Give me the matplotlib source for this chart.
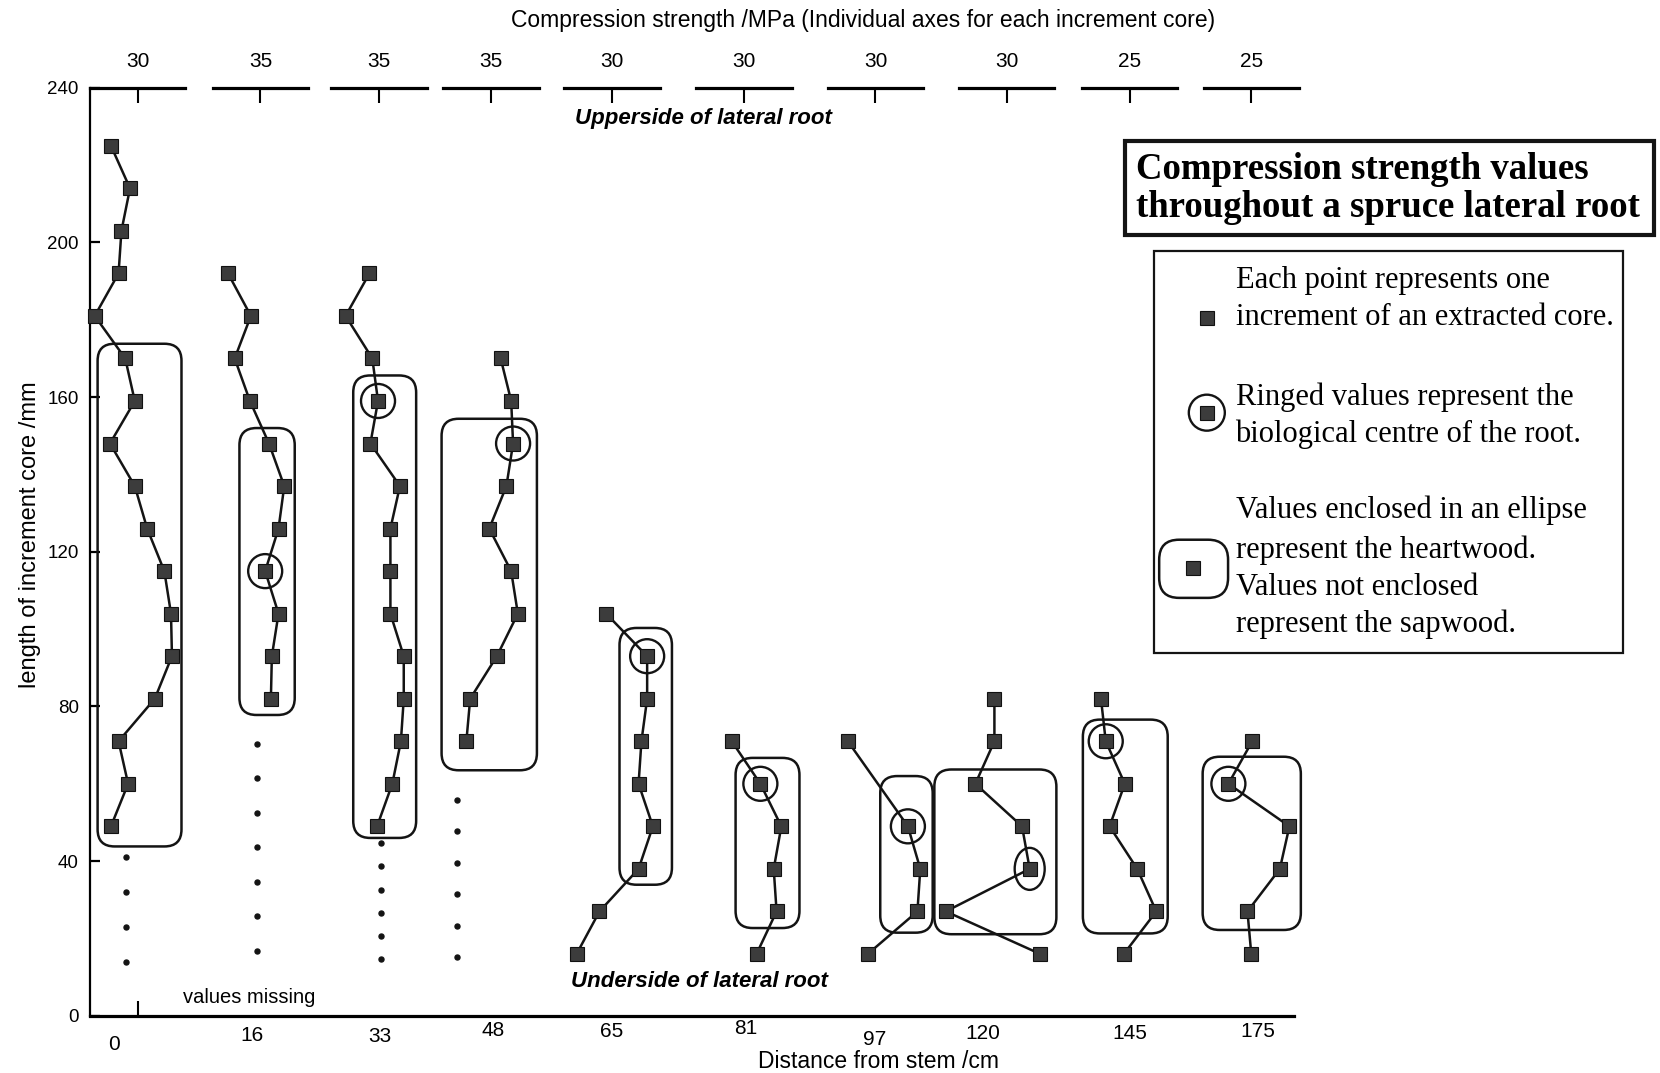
import matplotlib
matplotlib.use("Agg")
import matplotlib.pyplot as plt
from matplotlib.patches import FancyBboxPatch, Ellipse, Rectangle

plt.rcParams["font.family"] = ["Liberation Sans", "DejaVu Sans"]
SERIF = ["Liberation Serif", "DejaVu Serif"]

# distance of each increment core from the stem (cm) and the value (MPa)
# at the centre tick of that core's own strength axis
distance_cm = [0, 16, 33, 48, 65, 81, 97, 120, 145, 175]
axis_mid_mpa = [30, 35, 35, 35, 30, 30, 30, 30, 25, 25]

# increment position along each core (mm) and its compression strength (MPa)
core_mm = [
    [225, 214, 203, 192, 181, 170, 159, 148, 137, 126, 115, 104, 93, 82, 71, 60, 49],
    [192, 181, 170, 159, 148, 137, 126, 115, 104, 93, 82],
    [192, 181, 170, 159, 148, 137, 126, 115, 104, 93, 82, 71, 60, 49],
    [170, 159, 148, 137, 126, 115, 104, 93, 82, 71],
    [104, 93, 82, 71, 60, 49, 38, 27, 16],
    [71, 60, 49, 38, 27, 16],
    [71, 49, 38, 27, 16],
    [82, 71, 60, 49, 38, 27, 16],
    [82, 71, 60, 49, 38, 27, 16],
    [71, 60, 49, 38, 27, 16],
]
core_mpa = [
    [27.2, 29.2, 28.3, 28.0, 25.5, 28.7, 29.7, 27.1, 29.7, 31.0, 32.8, 33.5, 33.6, 31.8, 28.0, 29.0, 27.2],
    [31.6, 34.0, 32.3, 33.9, 35.9, 37.5, 36.9, 35.5, 36.9, 36.2, 36.1],
    [34.0, 31.5, 34.3, 34.9, 34.1, 37.2, 36.2, 36.2, 36.2, 37.6, 37.6, 37.3, 36.4, 34.8],
    [36.0, 37.1, 37.3, 36.6, 34.8, 37.1, 37.8, 35.6, 32.8, 32.4],
    [29.4, 33.7, 33.7, 33.1, 32.8, 34.3, 32.8, 28.7, 26.3],
    [28.7, 31.7, 33.9, 33.1, 33.4, 31.3],
    [27.1, 33.4, 34.7, 34.4, 29.2],
    [28.7, 28.7, 26.7, 31.6, 32.4, 23.6, 33.5],
    [22.0, 22.5, 24.5, 22.9, 25.8, 27.8, 24.4],
    [25.1, 22.6, 29.0, 28.0, 24.6, 25.0],
]
# increment at the biological centre of the root (ringed), mm
centre_mm = [None, 115, 159, 148, 93, 60, 49, 38, 71, 60]
# heartwood extent per core: (MPa left, MPa right, mm bottom, mm top)
heartwood = [
    (25.8, 34.6, 43.8, 173.8),
    (32.8, 38.6, 77.8, 152.0),
    (32.3, 38.9, 46.0, 165.6),
    (29.8, 39.8, 63.5, 154.4),
    (30.8, 36.3, 33.9, 100.3),
    (29.1, 35.8, 22.7, 66.7),
    (30.5, 36.0, 21.5, 62.0),
    (22.4, 35.2, 21.1, 63.7),
    (20.1, 29.0, 21.3, 76.6),
    (19.9, 30.2, 22.2, 67.0),
]
# increments with no measurement, below the first four cores
missing_core = [0, 1, 2, 3]
missing_mpa = [28.8, 34.6, 35.2, 31.4]
missing_mm = [
    [41, 32, 23, 14],
    [70.3, 61.4, 52.5, 43.6, 34.7, 25.7, 16.8],
    [44.6, 38.7, 32.5, 26.6, 20.7, 14.8],
    [55.9, 47.7, 39.6, 31.4, 23.3, 15.3],
]

# ---- layout -------------------------------------------------------------
W, H, DPI = 16.6, 10.73, 100
AX_L, AX_B, AX_W, AX_H = 0.0542, 0.0533, 0.7251, 0.8649
slot = [0.0396, 0.1416, 0.2401, 0.3333, 0.4336, 0.5435, 0.6526, 0.7617, 0.8637, 0.9648]
HALF = 0.0396          # half width of one strength axis, share of plot width
HALF_MPA = 5
# label offsets (points) under each core
lab_dx = [-16.8, -6, 0.8, 1.5, 0, 1.5, -0.8, -17.5, 0, 4.6]
lab_dy = [20.5, 14.5, 15, 10.5, 11.5, 9, 17, 13, 13, 11.5]
ring_px = [(17, 17)] * 7 + [(15, 21)] + [(17, 17)] * 2

INK = "#141414"
MK = dict(marker="s", ms=9.5, mfc="#3c3c3c", mec="#111111", mew=0.8)

fig = plt.figure(figsize=(W, H), dpi=DPI)
fig.patch.set_facecolor("white")

ax = fig.add_axes([AX_L, AX_B, AX_W, AX_H])
ax.set_xlim(0, 1)
ax.set_ylim(0, 240)
ax.spines[["top", "right"]].set_visible(False)
ax.spines["left"].set_linewidth(1.6)
ax.spines["bottom"].set_linewidth(2.3)
ax.set_xticks([])
ax.set_yticks(range(0, 241, 40))
ax.tick_params(axis="y", direction="in", length=7.5, width=1.6, pad=8, labelsize=13.5)

ax.text(0.510, 232, "Upperside of lateral root", ha="center", va="center",
        fontsize=16, fontweight="bold", fontstyle="italic")
ax.text(0.506, 8.8, "Underside of lateral root", ha="center", va="center",
        fontsize=16, fontweight="bold", fontstyle="italic")
ax.text(0.132, 4.7, "values missing", ha="center", va="center", fontsize=14.5)

px_per_mpa = 2 * HALF * AX_W * W * DPI / (2 * HALF_MPA)
px_per_mm = AX_H * H * DPI / 240
asp = px_per_mpa / px_per_mm

for i in range(len(distance_cm)):
    mid = axis_mid_mpa[i]
    cax = fig.add_axes([AX_L + (slot[i] - HALF) * AX_W, AX_B, 2 * HALF * AX_W, AX_H])
    cax.set_xlim(mid - HALF_MPA, mid + HALF_MPA)
    cax.set_ylim(0, 240)
    cax.patch.set_visible(False)
    for s in ("left", "right", "bottom"):
        cax.spines[s].set_visible(False)
    cax.spines["top"].set_linewidth(2.3)
    cax.set_yticks([])
    cax.set_xticks([mid])
    cax.set_xticklabels([str(mid)])
    cax.tick_params(axis="x", direction="in", length=11, width=1.5, pad=12,
                    labelsize=15, top=True, bottom=(i == 0),
                    labeltop=True, labelbottom=False)

    x0, x1, y0, y1 = heartwood[i]
    r = 17 / px_per_mpa
    cax.add_patch(FancyBboxPatch((x0, y0), x1 - x0, y1 - y0,
                                 boxstyle=f"round,pad=0,rounding_size={r}",
                                 mutation_aspect=asp, fill=False, lw=1.8,
                                 ec=INK, clip_on=False, zorder=2))

    cax.plot(core_mpa[i], core_mm[i], "-", color=INK, lw=1.8, clip_on=False,
             zorder=3, **MK)

    if centre_mm[i] is not None:
        k = core_mm[i].index(centre_mm[i])
        rx, ry = ring_px[i]
        cax.add_patch(Ellipse((core_mpa[i][k], core_mm[i][k]),
                              2 * rx / px_per_mpa, 2 * ry / px_per_mm,
                              fill=False, lw=1.7, ec=INK, clip_on=False, zorder=4))

    if i in missing_core:
        j = missing_core.index(i)
        cax.plot([missing_mpa[j]] * len(missing_mm[j]), missing_mm[j], ls="none",
                 marker="o", ms=3.6, color=INK, clip_on=False)

    cax.annotate(str(distance_cm[i]), xy=(mid, 0), xycoords="data",
                 xytext=(lab_dx[i], -lab_dy[i]), textcoords="offset points",
                 ha="center", va="center", fontsize=15, annotation_clip=False)

fig.text(0.5198, 0.9813, "Compression strength /MPa (Individual axes for each increment core)",
         ha="center", va="center", fontsize=16.5)
fig.text(0.5293, 0.0105, "Distance from stem /cm", ha="center", va="center", fontsize=16.5)
fig.text(0.0179, 0.502, "length of increment core /mm", rotation=90,
         ha="center", va="center", fontsize=17)

# ---- key ----------------------------------------------------------------
lg = fig.add_axes([0, 0, 1, 1], zorder=5)
lg.set_axis_off()
lg.set_xlim(0, 1)
lg.set_ylim(0, 1)

lg.add_patch(Rectangle((0.678, 0.781), 0.3182, 0.0878, fill=False, lw=3.0, ec=INK))
lg.text(0.6843, 0.8422, "Compression strength values", family=SERIF,
        fontweight="bold", fontsize=26.5, va="center", ha="left")
lg.text(0.6843, 0.8067, "throughout a spruce lateral root", family=SERIF,
        fontweight="bold", fontsize=26.5, va="center", ha="left")

lg.add_patch(Rectangle((0.6952, 0.3915), 0.2825, 0.3748, fill=False, lw=1.6, ec=INK))
TX = 0.7443
key_lines = [
    (0.7387, "Each point represents one"),
    (0.7041, "increment of an extracted core."),
    (0.6302, "Ringed values represent the"),
    (0.5957, "biological centre of the root."),
    (0.5247, "Values enclosed in an ellipse"),
    (0.4872, "represent the heartwood."),
    (0.4527, "Values not enclosed"),
    (0.4181, "represent the sapwood."),
]
for y, t in key_lines:
    lg.text(TX, y, t, family=SERIF, fontsize=22, va="center", ha="left")

lg.plot([0.727], [0.7041], ls="none", **MK)
lg.plot([0.727], [0.6154], ls="none", **MK)
lg.add_patch(Ellipse((0.727, 0.6154), 2 * 18 / (W * DPI), 2 * 18 / (H * DPI),
                     fill=False, lw=1.7, ec=INK))
lg.plot([0.7188], [0.4704], ls="none", **MK)
lg.add_patch(FancyBboxPatch((0.6983, 0.4428), 0.0415, 0.0542,
                            boxstyle="round,pad=0,rounding_size=0.012",
                            mutation_aspect=W / H, fill=False, lw=1.8, ec=INK))

fig.savefig("out.png", dpi=DPI)
